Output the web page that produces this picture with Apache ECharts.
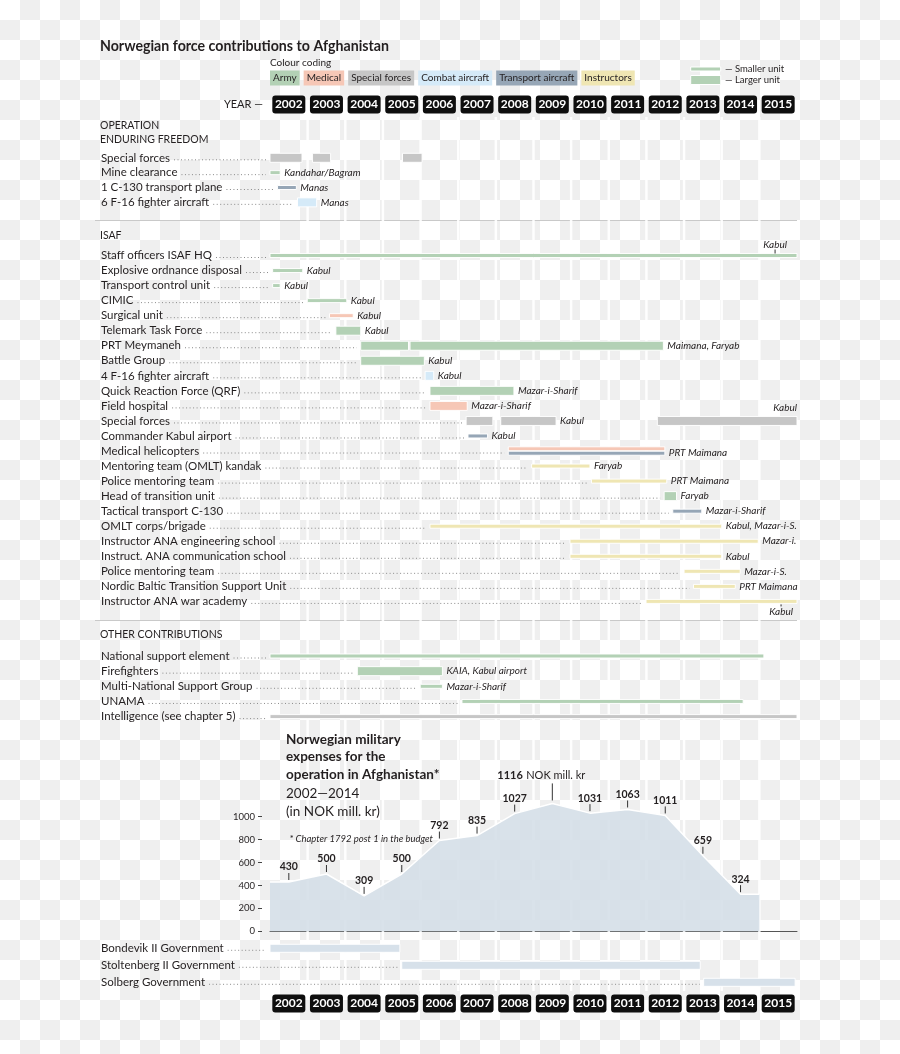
<!DOCTYPE html>
<html><head><meta charset="utf-8">
<script src="https://cdn.jsdelivr.net/npm/echarts@6/dist/echarts.min.js"></script>
<style>
html,body{margin:0;padding:0;}
body{width:900px;height:1054px;background-color:#fff;
background-image:linear-gradient(45deg,#efefef 25%,transparent 25%,transparent 75%,#efefef 75%),linear-gradient(45deg,#efefef 25%,transparent 25%,transparent 75%,#efefef 75%);
background-size:40px 40px;background-position:0 0,20px 20px;}
#chart{width:900px;height:1054px;}
</style></head><body><div id="chart"></div>
<script>
// ---------------- DATA ----------------
const years = [2002,2003,2004,2005,2006,2007,2008,2009,2010,2011,2012,2013,2014,2015];
const unitTypes = ['Army','Medical','Special forces','Combat aircraft','Transport aircraft','Instructors'];

const oefRows = ['Special forces','Mine clearance','1 C-130 transport plane','6 F-16 fighter aircraft'];
// [row, start, end, unit type, unit size (S smaller / L larger), location]
const oefBars = [
  [0, 2002.0, 2002.85, 'Special forces', 'L', ''],
  [0, 2003.13, 2003.61, 'Special forces', 'L', ''],
  [0, 2005.52, 2006.04, 'Special forces', 'L', ''],
  [1, 2002.0, 2002.27, 'Army', 'S', 'Kandahar/Bagram'],
  [2, 2002.2, 2002.7, 'Transport aircraft', 'S', 'Manas'],
  [3, 2002.73, 2003.24, 'Combat aircraft', 'L', 'Manas']
];

const isafRows = ['Staff officers ISAF HQ','Explosive ordnance disposal','Transport control unit','CIMIC','Surgical unit',
  'Telemark Task Force','PRT Meymaneh','Battle Group','4 F-16 fighter aircraft','Quick Reaction Force (QRF)','Field hospital',
  'Special forces','Commander Kabul airport','Medical helicopters','Mentoring team (OMLT) kandak','Police mentoring team',
  'Head of transition unit','Tactical transport C-130','OMLT corps/brigade','Instructor ANA engineering school',
  'Instruct. ANA communication school','Police mentoring team','Nordic Baltic Transition Support Unit','Instructor ANA war academy'];
const isafBars = [
  [0, 2002.0, 2016.0, 'Army', 'S', 'Kabul'],
  [1, 2002.07, 2002.87, 'Army', 'S', 'Kabul'],
  [2, 2002.07, 2002.27, 'Army', 'S', 'Kabul'],
  [3, 2002.99, 2004.04, 'Army', 'S', 'Kabul'],
  [4, 2003.58, 2004.21, 'Medical', 'S', 'Kabul'],
  [5, 2003.75, 2004.41, 'Army', 'L', 'Kabul'],
  [6, 2004.41, 2005.68, 'Army', 'L', ''],
  [6, 2005.72, 2012.45, 'Army', 'L', 'Maimana, Faryab'],
  [7, 2004.41, 2006.1, 'Army', 'L', 'Kabul'],
  [8, 2006.12, 2006.35, 'Combat aircraft', 'L', 'Kabul'],
  [9, 2006.25, 2008.48, 'Army', 'L', 'Mazar-i-Sharif'],
  [10, 2006.25, 2007.24, 'Medical', 'L', 'Mazar-i-Sharif'],
  [11, 2007.21, 2007.92, 'Special forces', 'L', ''],
  [11, 2008.13, 2009.6, 'Special forces', 'L', 'Kabul'],
  [11, 2012.29, 2016.0, 'Special forces', 'L', 'Kabul'],
  [12, 2007.26, 2007.78, 'Transport aircraft', 'S', 'Kabul'],
  [13, 2008.33, 2012.49, 'Medical', 'S', ''],
  [13, 2008.33, 2012.49, 'Transport aircraft', 'S', 'PRT Maimana'],
  [14, 2008.95, 2010.5, 'Instructors', 'S', 'Faryab'],
  [15, 2010.54, 2012.54, 'Instructors', 'S', 'PRT Maimana'],
  [16, 2012.47, 2012.8, 'Army', 'L', 'Faryab'],
  [17, 2012.7, 2013.47, 'Transport aircraft', 'S', 'Mazar-i-Sharif'],
  [18, 2006.25, 2014.0, 'Instructors', 'S', 'Kabul, Mazar-i-S.'],
  [19, 2009.97, 2014.97, 'Instructors', 'S', 'Mazar-i.'],
  [20, 2009.97, 2014.0, 'Instructors', 'S', 'Kabul'],
  [21, 2013.0, 2014.49, 'Instructors', 'S', 'Mazar-i-S.'],
  [22, 2013.25, 2014.36, 'Instructors', 'S', 'PRT Maimana'],
  [23, 2011.99, 2016.0, 'Instructors', 'S', 'Kabul']
];

const otherRows = ['National support element','Firefighters','Multi-National Support Group','UNAMA','Intelligence (see chapter 5)'];
const otherBars = [
  [0, 2002.0, 2015.12, 'Army', 'S', ''],
  [1, 2004.32, 2006.58, 'Army', 'L', 'KAIA, Kabul airport'],
  [2, 2005.99, 2006.58, 'Army', 'S', 'Mazar-i-Sharif'],
  [3, 2007.1, 2014.57, 'Army', 'S', ''],
  [4, 2002.0, 2016.0, 'Special forces', 'S', '']
];

const govRows = ['Bondevik II Government','Stoltenberg II Government','Solberg Government'];
const govBars = [
  [0, 2002.0, 2005.45],
  [1, 2005.5, 2013.43],
  [2, 2013.52, 2015.95]
];

const expenseYears = [2002,2003,2004,2005,2006,2007,2008,2009,2010,2011,2012,2013,2014];
const expenseValues = [430,500,309,500,792,835,1027,1116,1031,1063,1011,659,324];
const expenseUnit = 'NOK mill. kr';

// ---------------- STYLE / LAYOUT ----------------
const FONT = 'Lato, "Open Sans", "Liberation Sans", sans-serif';
const ROW_FONT = '11.5px ' + FONT;
const LOC_FONT = 'italic 10px ' + FONT;
const INK = '#231f20';
const typeColors = {'Army':'#b3d1b5','Medical':'#f6c7b6','Special forces':'#c6c6c6','Combat aircraft':'#d5eaf8',
  'Transport aircraft':'#96a6b6','Instructors':'#efe6b3','Government':'#d7e1ea'};
const barHeights = {S:4, L:9, G:8};
const sectionLayout = {
  oef:{y0:157.8, step:14.85}, isaf:{y0:255.5, step:15.04}, other:{y0:656, step:15.15}, gov:{y0:948.3, step:17}
};
const laneOffset = {'isaf:13:0':-2.2, 'isaf:13:1':2.2};
const labelPlacement = {'isaf:0:0':'aboveTick', 'isaf:11:2':'above', 'isaf:23:0':'below'};
const LABEL_X = 101;

const ctx = document.createElement('canvas').getContext('2d');
function textW(t, font){ ctx.font = font; return ctx.measureText(t).width; }

// ---------------- BUILD ----------------
function build(section, bars, isGov){
  const cnt = {};
  return bars.map(b => {
    const row = b[0];
    const k = cnt[row] || 0; cnt[row] = k + 1;
    const key = section + ':' + row + ':' + k;
    const L = sectionLayout[section];
    return {section, row, start:b[1], end:b[2], type: isGov ? 'Government' : b[3], size: isGov ? 'G' : b[4],
      place: isGov ? '' : b[5], key, y: L.y0 + row * L.step + (laneOffset[key] || 0)};
  });
}
const allBars = [].concat(build('oef', oefBars), build('isaf', isafBars), build('other', otherBars), build('gov', govBars, true));

function rowsOf(section, names, bars){
  const L = sectionLayout[section];
  return names.map((n, i) => {
    const starts = bars.filter(b => b.section === section && b.row === i).map(b => b.start);
    return {name:n, y: L.y0 + i * L.step, firstStart: Math.min.apply(null, starts)};
  });
}
const rowItems = [].concat(rowsOf('oef', oefRows, allBars), rowsOf('isaf', isafRows, allBars),
  rowsOf('other', otherRows, allBars), rowsOf('gov', govRows, allBars));

function txt(t, x, y, align, font, extra){
  return {type:'text', style:Object.assign({text:t, x, y, font: font || LOC_FONT, fill:INK,
    textAlign:align, textVerticalAlign:'middle', align:align, verticalAlign:'middle'}, extra || {})};
}
function ln(x1, y1, x2, y2, stroke, w, dash){
  return {type:'line', shape:{x1, y1, x2, y2}, style:{stroke: stroke || '#555', lineWidth: w || 1, lineDash: dash || null}};
}

function barSeries(type){
  const items = allBars.filter(b => b.type === type);
  return {
    type:'custom', name:type, xAxisIndex:0, yAxisIndex:0, z:5, clip:false,
    itemStyle:{color:typeColors[type]},
    data: items.map(b => [b.start, b.end, b.y]),
    renderItem:(params, api) => {
      const it = items[params.dataIndex];
      const p0 = api.coord([api.value(0), api.value(2)]);
      const p1 = api.coord([api.value(1), api.value(2)]);
      const h = barHeights[it.size];
      const ch = [{type:'rect', shape:{x:p0[0], y:p0[1]-h/2, width:p1[0]-p0[0], height:h},
        style:{fill:typeColors[type], stroke:'rgba(255,255,255,0.95)', lineWidth:1}}];
      if (it.place) {
        const pl = labelPlacement[it.key] || 'right';
        const y = p1[1];
        if (pl === 'right') ch.push(txt(it.place, p1[0] + 4, y, 'left'));
        else if (pl === 'aboveTick') {
          const w = textW(it.place, LOC_FONT), xr = p1[0] - 10;
          ch.push(txt(it.place, xr, y - 11, 'right'));
          ch.push(ln(xr - w/2, y - 6, xr - w/2, y - h/2, '#333', 1));
        } else if (pl === 'above') ch.push(txt(it.place, p1[0], y - 13.5, 'right'));
        else if (pl === 'below') {
          const w = textW(it.place, LOC_FONT), xr = p1[0] - 4;
          ch.push(ln(xr - w/2, y + h/2 + 1, xr - w/2, y + 5, '#333', 1));
          ch.push(txt(it.place, xr, y + 10, 'right'));
        }
      }
      return {type:'group', children:ch};
    }
  };
}

const maxExpense = Math.max.apply(null, expenseValues);
const areaData = [[expenseYears[0], expenseValues[0]]]
  .concat(expenseYears.map((y, i) => [y + 0.5, expenseValues[i]]))
  .concat([[expenseYears[expenseYears.length-1] + 1, expenseValues[expenseValues.length-1]]]);

function yearAxis(g){
  return {type:'category', gridIndex:g, data:years.map(String), boundaryGap:true,
    axisLine:{show:false}, axisTick:{show:false}, splitLine:{show:false},
    axisLabel:{interval:0, margin:0, verticalAlign:'middle', color:'#fff', fontWeight:'bold', fontSize:12,
      fontFamily:FONT, backgroundColor:'#0e0e0e', borderRadius:3, padding:[3,0,2,0], width:33, align:'center', lineHeight:13}};
}

const series = [];
// year column separators
series.push({
  type:'custom', name:'sep', xAxisIndex:0, yAxisIndex:0, z:3, silent:true, clip:false,
  data: years.slice(1).map(y => [y, 0]),
  renderItem:(params, api) => {
    const a = api.coord([api.value(0), 117]), b = api.coord([api.value(0), 991]);
    return ln(a[0], a[1], b[0], b[1], 'rgba(255,255,255,0.9)', 2.5);
  }
});
unitTypes.forEach(t => series.push(barSeries(t)));
series.push(barSeries('Government'));
// row labels + dotted leaders
series.push({
  type:'custom', name:'rows', xAxisIndex:0, yAxisIndex:0, z:6, silent:true, clip:false,
  data: rowItems.map(r => [r.firstStart, r.y]),
  renderItem:(params, api) => {
    const r = rowItems[params.dataIndex];
    const p = api.coord([api.value(0), api.value(1)]);
    const w = textW(r.name, ROW_FONT);
    const xs = LABEL_X + w + 4, xe = p[0] - 4;
    const ch = [txt(r.name, LABEL_X, p[1], 'left', ROW_FONT)];
    if (xe > xs) ch.push(ln(xs, p[1] + 2, xe, p[1] + 2, '#8a8a8a', 1, [1, 2.5]));
    return {type:'group', children:ch};
  }
});
// expenses area
series.push({
  type:'line', name:'expenses', xAxisIndex:1, yAxisIndex:1, z:4, clip:false, silent:true,
  data: areaData, symbol:'none', smooth:false,
  lineStyle:{color:'#ffffff', width:1.5},
  areaStyle:{color:'#d3dde7', opacity:0.86}
});
series.push({
  type:'custom', name:'expenseLabels', xAxisIndex:1, yAxisIndex:1, z:6, silent:true, clip:false,
  data: expenseYears.map((y, i) => [y + 0.5, expenseValues[i]]),
  renderItem:(params, api) => {
    const v = api.value(1);
    const p = api.coord([api.value(0), v]);
    const isMax = v === maxExpense;
    const ch = [];
    if (isMax) {
      ch.push(ln(p[0], p[1] - 20, p[0], p[1] - 3, '#333', 1));
      ch.push({type:'text', style:{text:'{b|' + v + '} {n|' + expenseUnit + '}', x:p[0] - 55, y:p[1] - 28,
        textAlign:'left', textVerticalAlign:'middle', align:'left', verticalAlign:'middle',
        rich:{b:{font:'bold 11px ' + FONT, fill:INK, fontWeight:'bold', fontSize:11, fontFamily:FONT},
              n:{font:'11px ' + FONT, fill:INK, fontSize:11, fontFamily:FONT}}}});
    } else {
      ch.push(ln(p[0], p[1] - 9, p[0], p[1] - 2, '#333', 1));
      ch.push(txt(String(v), p[0], p[1] - 15, 'center', 'bold 10.5px ' + FONT));
    }
    return {type:'group', children:ch};
  }
});

const G = [];
function gtext(t, x, y, font, align){
  G.push({type:'text', z:10, silent:true, style:{text:t, x, y, font, fill:INK, textAlign:align || 'left',
    textVerticalAlign:'middle', align:align || 'left', verticalAlign:'middle'}});
}
gtext('Norwegian force contributions to Afghanistan', 100, 46, 'bold 14.2px ' + FONT);
gtext('Colour coding', 270, 62.5, '10px ' + FONT);
gtext('YEAR \u2014', 263, 104.5, '11px ' + FONT, 'right');
gtext('OPERATION', 100, 126, '10.5px ' + FONT);
gtext('ENDURING FREEDOM', 100, 139.3, '10.5px ' + FONT);
gtext('ISAF', 100, 236, '10.5px ' + FONT);
gtext('OTHER CONTRIBUTIONS', 100, 635, '10.5px ' + FONT);
// unit size key
G.push({type:'rect', z:10, silent:true, shape:{x:690.7, y:67, width:30, height:4}, style:{fill:typeColors.Army, stroke:'#fff', lineWidth:1}});
G.push({type:'rect', z:10, silent:true, shape:{x:690.7, y:75.5, width:30, height:9}, style:{fill:typeColors.Army, stroke:'#fff', lineWidth:1}});
gtext('\u2014 Smaller unit', 725, 69, '9.5px ' + FONT);
gtext('\u2014 Larger unit', 725, 80, '9.5px ' + FONT);
// section rules
G.push({type:'line', z:1, silent:true, shape:{x1:95, y1:220.5, x2:797, y2:220.5}, style:{stroke:'#c9c9c9', lineWidth:1}});
G.push({type:'line', z:1, silent:true, shape:{x1:95, y1:620.5, x2:797, y2:620.5}, style:{stroke:'#c9c9c9', lineWidth:1}});
// expenses title block
gtext('Norwegian military', 286, 739.3, 'bold 13.5px ' + FONT);
gtext('expenses for the', 286, 757, 'bold 13.5px ' + FONT);
gtext('operation in Afghanistan*', 286, 775, 'bold 13.5px ' + FONT);
gtext('2002\u20142014', 286, 794, '13.5px ' + FONT);
gtext('(in NOK mill. kr)', 286, 811.7, '13.5px ' + FONT);
gtext('* Chapter 1792 post 1 in the budget', 289.5, 839, 'italic 9.5px ' + FONT);

const option = {
  animation:false,
  textStyle:{fontFamily:FONT},
  legend:{
    left:265, top:70.5, orient:'horizontal', itemWidth:0, itemHeight:0, itemGap:-1, selectedMode:false,
    icon:'rect', padding:0,
    textStyle:{fontSize:10, color:INK, fontFamily:FONT, lineHeight:11},
    data: unitTypes.map(n => ({name:n, textStyle:{backgroundColor:typeColors[n], padding:[2,3,2,3]}}))
  },
  grid:[
    {left:270, right:103, top:0, height:1054, outerBoundsMode:'none'},
    {left:270, right:103, top:816.7, height:114.6, outerBoundsMode:'none'},
    {left:270, right:103, top:103.5, height:1, outerBoundsMode:'none'},
    {left:270, right:103, top:1002.5, height:1, outerBoundsMode:'none'}
  ],
  xAxis:[
    {type:'value', gridIndex:0, min:2002, max:2016, show:false},
    {type:'value', gridIndex:1, min:2002, max:2016, axisLine:{show:true, lineStyle:{color:'#555', width:1}},
      axisTick:{show:false}, axisLabel:{show:false}, splitLine:{show:false}},
    yearAxis(2), yearAxis(3)
  ],
  yAxis:[
    {type:'value', gridIndex:0, min:0, max:1054, inverse:true, show:false},
    {type:'value', gridIndex:1, min:0, max:1000, interval:200, offset:8,
      axisLine:{show:false}, axisTick:{show:true, length:4, lineStyle:{color:'#444'}},
      axisLabel:{margin:7, fontSize:9.5, color:INK, fontFamily:FONT, formatter:v => String(v)}, splitLine:{show:false}},
    {type:'value', gridIndex:2, show:false},
    {type:'value', gridIndex:3, show:false}
  ],
  graphic:G,
  series
};
const chart = echarts.init(document.getElementById('chart'));
chart.setOption(option);
</script></body></html>
